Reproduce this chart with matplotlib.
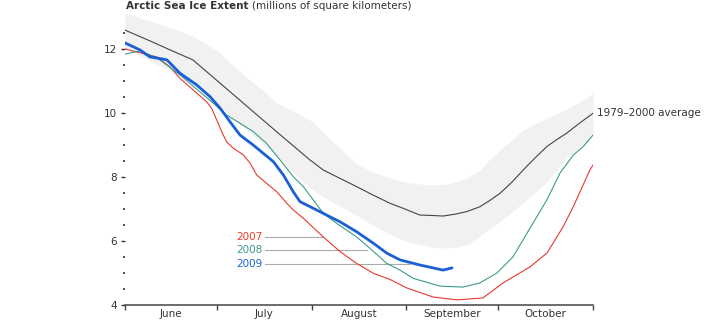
import matplotlib
matplotlib.use('Agg')
import matplotlib.pyplot as plt
from matplotlib.ticker import FixedLocator, NullFormatter

# x values are days since June 1, y values millions of km^2
avg_days = [0, 8, 15, 22.2, 30, 40, 50, 60.5, 64.8, 70, 75.7, 81, 86.6, 91.5, 96.4, 100, 104, 108, 111.8, 116,
            119, 122.6, 126.5, 130.2, 134, 137.9, 141, 144.4, 148.7, 153]
avg_vals = [12.59, 12.26, 11.96, 11.66, 11.02, 10.20, 9.38, 8.53, 8.22, 7.97, 7.70, 7.44, 7.18, 7.0, 6.81, 6.80,
            6.78, 6.84, 6.92, 7.07, 7.25, 7.49, 7.84, 8.22, 8.59, 8.95, 9.16, 9.37, 9.69, 9.99]
band_hi = [13.12, 12.88, 12.66, 12.4, 11.95, 11.1, 10.3, 9.78, 9.39, 8.92, 8.41, 8.16, 7.97, 7.84, 7.78, 7.75,
           7.77, 7.84, 7.97, 8.22, 8.53, 8.84, 9.16, 9.47, 9.66, 9.83, 9.97, 10.12, 10.34, 10.62]
band_lo = [12.0, 11.64, 11.31, 10.97, 10.3, 9.45, 8.6, 7.65, 7.38, 7.1, 6.8, 6.5, 6.22, 6.0, 5.88, 5.82, 5.78,
           5.8, 5.88, 6.16, 6.38, 6.6, 6.91, 7.2, 7.5, 7.84, 8.2, 8.6, 8.95, 9.31]

d2007 = [0, 10.5, 14.7, 18, 22.3, 26.7, 28.3, 30, 31.6, 33.2, 35.4, 38.7, 40.9, 43.1, 46.3, 49.6, 52.9, 55,
         58.3, 64.8, 70.3, 75.7, 81.2, 86.6, 92.2, 100.7, 108.5, 117, 123.6, 132.4, 138, 143.2, 146.5, 152, 153]
v2007 = [12.0, 11.75, 11.44, 11.08, 10.72, 10.35, 10.15, 9.78, 9.42, 9.10, 8.90, 8.69, 8.43, 8.06, 7.80, 7.54,
         7.18, 6.97, 6.71, 6.13, 5.67, 5.30, 4.99, 4.80, 4.53, 4.25, 4.16, 4.22, 4.69, 5.19, 5.63, 6.44, 7.06,
         8.22, 8.375]

d2008 = [0, 4.9, 10.5, 18, 28.8, 33.2, 37.6, 41.9, 46.3, 50.7, 55, 58.3, 64.8, 69.2, 75.7, 80.1, 85.6, 89.9,
         94.3, 103, 110.5, 116, 121.6, 126.8, 132.4, 137.9, 142.2, 146.6, 149.8, 153]
v2008 = [11.84, 11.94, 11.72, 11.19, 10.31, 9.94, 9.68, 9.42, 9.05, 8.53, 8.01, 7.70, 6.87, 6.55, 6.13, 5.77,
         5.30, 5.09, 4.83, 4.59, 4.56, 4.69, 5.0, 5.5, 6.40, 7.28, 8.12, 8.69, 8.95, 9.31]

d2009 = [0, 4.9, 8.2, 12.1, 13.7, 18, 23.4, 27.8, 31.1, 34.3, 37.6, 41.9, 45.2, 48.5, 51.8, 55, 57.2, 61.6,
         65.9, 70.3, 75.7, 81.2, 85.6, 89.9, 96.4, 100.7, 104, 106.9]
v2009 = [12.19, 11.97, 11.75, 11.69, 11.66, 11.24, 10.88, 10.51, 10.15, 9.73, 9.31, 9.0, 8.74, 8.48, 8.06, 7.54,
         7.23, 7.02, 6.81, 6.60, 6.29, 5.93, 5.62, 5.41, 5.25, 5.16, 5.09, 5.16]

years = ['2007', '2008', '2009']
label_y = [6.14, 5.71, 5.27]
label_end = [64.7, 79, 93.2]

month_edges = [0, 30, 61, 92, 122, 153]
month_names = ['June', 'July', 'August', 'September', 'October']

c07, c08, c09 = '#e8392c', '#3c9a8c', '#1a5fd6'
dark = '#333333'
fs = 7.5

fig = plt.figure(figsize=(7.2, 3.21), dpi=100)
ax = fig.add_axes([125 / 720, 16 / 321, 468 / 720, 291.2 / 321])

ax.fill_between(avg_days, band_lo, band_hi, color='#f1f1f1', lw=0, zorder=1)
ax.plot(avg_days, avg_vals, color='#444444', lw=0.8, zorder=3)
ax.plot(d2007, v2007, color=c07, lw=0.8, zorder=4)
ax.plot(d2008, v2008, color=c08, lw=0.8, zorder=4)
ax.plot(d2009, v2009, color=c09, lw=2.0, zorder=5, solid_capstyle='round')

ax.set_xlim(0, 153)
ax.set_ylim(4, 13.1)

# leader lines and year labels
for yr, c, yv, xe in zip(years, [c07, c08, c09], label_y, label_end):
    ax.plot([45.8, xe], [yv, yv], color='#aaaaaa', lw=0.8, zorder=2)
    ax.text(45.1, yv, yr, color=c, fontsize=fs, ha='right', va='center')

ax.text(154.3, 10.0, '1979\u20132000 average', color=dark, fontsize=fs, ha='left', va='center',
        clip_on=False)

for s in ['top', 'right', 'left']:
    ax.spines[s].set_visible(False)
ax.spines['bottom'].set_color('#444444')
ax.spines['bottom'].set_linewidth(1.1)

ax.yaxis.set_major_locator(FixedLocator([4, 6, 8, 10, 12]))
ax.yaxis.set_minor_locator(FixedLocator([4.5, 5, 5.5, 6.5, 7, 7.5, 8.5, 9, 9.5, 10.5, 11, 11.5, 12.5]))
ax.tick_params(axis='y', which='major', length=3, width=1.0, color='#333333', labelsize=fs,
               labelcolor=dark, pad=2.5)
ax.tick_params(axis='y', which='minor', length=1.8, width=1.2, color='#333333')

ax.xaxis.set_major_locator(FixedLocator(month_edges))
ax.xaxis.set_major_formatter(NullFormatter())
centers = [(a + b) / 2 for a, b in zip(month_edges[:-1], month_edges[1:])]
ax.xaxis.set_minor_locator(FixedLocator(centers))
ax.set_xticklabels(month_names, minor=True)
ax.tick_params(axis='x', which='major', length=3.5, width=1.0, color='#444444')
ax.tick_params(axis='x', which='minor', length=0, labelsize=fs, labelcolor=dark, pad=3)

t1 = fig.text(126 / 720, 1 - 1 / 321, 'Arctic Sea Ice Extent', fontsize=fs, fontweight='bold',
              color=dark, ha='left', va='top')
fig.canvas.draw()
bb = t1.get_window_extent()
fig.text((bb.x1 + 3) / 720, 1 - 1 / 321, '(millions of square kilometers)', fontsize=fs,
         color=dark, ha='left', va='top')

fig.savefig('out.png', dpi=100)
